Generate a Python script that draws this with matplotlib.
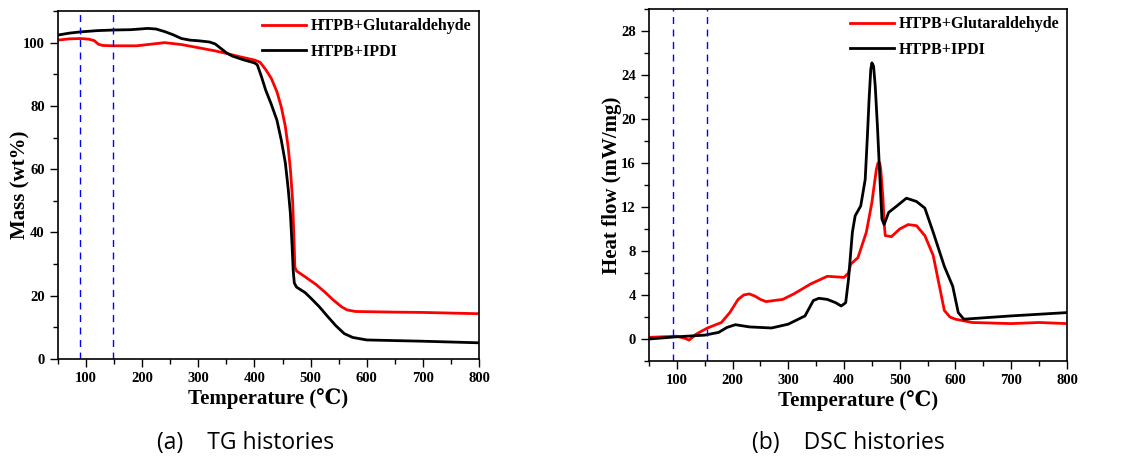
import numpy as np
import matplotlib.pyplot as plt
from matplotlib.ticker import MultipleLocator

serif = ['Liberation Serif', 'DejaVu Serif']
plt.rcParams['font.family'] = serif
plt.rcParams['font.weight'] = 'bold'

# TG data (temperature in C, mass wt%)
tg_glu_t = [50, 70, 90, 105, 115, 122, 130, 150, 190, 215, 240, 270, 300, 330, 350, 375, 400, 410, 420, 430, 440, 448, 455, 460, 464, 468, 470, 472, 475, 490, 510, 525, 540, 555, 565, 580, 650, 700, 800]
tg_glu_m = [100.8, 101.2, 101.3, 101.1, 100.6, 99.5, 99.1, 99, 99, 99.5, 100, 99.4, 98.4, 97.4, 96.6, 95.5, 94.5, 93.8, 91.5, 88.7, 84.5, 79.5, 73.5, 67, 60, 50, 40, 29, 27.8, 26, 23.5, 21.2, 18.7, 16.5, 15.5, 15, 14.8, 14.7, 14.3]
tg_ipdi_t = [50, 70, 90, 120, 150, 180, 210, 225, 240, 255, 270, 285, 300, 320, 330, 340, 350, 360, 380, 400, 405, 412, 420, 430, 440, 448, 455, 460, 464, 467, 469, 471, 475, 490, 500, 515, 530, 545, 560, 575, 600, 700, 800]
tg_ipdi_m = [102.4, 103, 103.4, 103.8, 104, 104.1, 104.5, 104.3, 103.5, 102.5, 101.3, 100.8, 100.6, 100.2, 99.6, 98.2, 96.8, 95.8, 94.6, 93.6, 93, 89.5, 85, 80.5, 75.5, 69, 62, 54, 46, 36, 28, 24, 22.7, 21, 19.3, 16.6, 13.5, 10.5, 8, 6.8, 6, 5.6, 5.1]

# DSC data (temperature in C, heat flow mW/mg)
dsc_glu_t = [50, 100, 115, 122, 135, 155, 180, 195, 210, 220, 230, 240, 250, 260, 290, 310, 340, 370, 400, 408, 412, 425, 440, 450, 455, 458, 461, 464, 466, 468, 470, 472, 474, 485, 500, 515, 530, 545, 560, 570, 580, 590, 600, 630, 700, 750, 800]
dsc_glu_h = [0.15, 0.25, 0.05, -0.1, 0.45, 1.0, 1.5, 2.4, 3.6, 4.0, 4.1, 3.9, 3.6, 3.4, 3.6, 4.1, 5.0, 5.7, 5.6, 6.0, 6.8, 7.4, 9.7, 12.4, 14.3, 15.4, 16.0, 16.0, 15.4, 14.0, 12.7, 10.5, 9.4, 9.3, 10.0, 10.4, 10.3, 9.4, 7.6, 5.1, 2.6, 2.0, 1.8, 1.5, 1.4, 1.5, 1.4]
dsc_ipdi_t = [50, 100, 150, 175, 190, 205, 230, 270, 300, 330, 345, 355, 370, 385, 395, 403, 408, 415, 420, 430, 438, 442, 445, 448, 450, 453, 456, 460, 464, 468, 472, 480, 495, 512, 530, 545, 560, 580, 595, 605, 615, 700, 800]
dsc_ipdi_h = [0, 0.2, 0.35, 0.6, 1.05, 1.3, 1.1, 1.0, 1.35, 2.1, 3.5, 3.7, 3.6, 3.3, 3.0, 3.3, 5.4, 9.7, 11.2, 12.1, 14.5, 18.5, 21.8, 24.5, 25.1, 24.8, 23.0, 19.3, 15.0, 10.9, 10.4, 11.5, 12.1, 12.8, 12.5, 11.9, 9.7, 6.6, 4.8, 2.4, 1.8, 2.1, 2.4]

tg_marks = [90, 148]
dsc_marks = [94, 154]

fig = plt.figure(figsize=(11.3, 4.59), dpi=100)
ax1 = fig.add_axes([0.0513, 0.218, 0.3726, 0.758])
ax2 = fig.add_axes([0.5743, 0.2135, 0.3699, 0.767])

def style(ax):
    ax.tick_params(which='major', direction='out', length=6, width=1, labelsize=10.5,
                   top=False, right=False)
    ax.tick_params(which='minor', direction='out', length=3.5, width=1, top=False, right=False)
    for s in ax.spines.values():
        s.set_linewidth(1.2)
    for lab in ax.get_xticklabels() + ax.get_yticklabels():
        lab.set_fontweight('bold')
    ax.set_xlabel('Temperature (℃)', fontsize=15, fontweight='bold', family=serif, labelpad=2)
    ax.yaxis.set_label_coords(-0.065, 0.5)
    ax.legend(loc='upper right', frameon=False, prop={'family': serif, 'weight': 'bold', 'size': 11.5},
              handlelength=2.7, handletextpad=0.35, borderaxespad=0.1, borderpad=0.35,
              labelspacing=0.6)

ax1.plot(tg_glu_t, tg_glu_m, color='red', lw=2, label='HTPB+Glutaraldehyde')
ax1.plot(tg_ipdi_t, tg_ipdi_m, color='black', lw=2, label='HTPB+IPDI')
for v in tg_marks:
    ax1.axvline(v, color='blue', lw=1, ls=(0, (5, 4)))
ax1.set_xlim(50, 800)
ax1.set_ylim(0, 110)
ax1.xaxis.set_major_locator(MultipleLocator(100))
ax1.xaxis.set_minor_locator(MultipleLocator(50))
ax1.yaxis.set_major_locator(MultipleLocator(20))
ax1.yaxis.set_minor_locator(MultipleLocator(10))
ax1.set_ylabel('Mass (wt%)', fontsize=15, fontweight='bold')
style(ax1)

ax2.plot(dsc_glu_t, dsc_glu_h, color='red', lw=2, label='HTPB+Glutaraldehyde')
ax2.plot(dsc_ipdi_t, dsc_ipdi_h, color='black', lw=2, label='HTPB+IPDI')
for v in dsc_marks:
    ax2.axvline(v, color='blue', lw=1, ls=(0, (5, 4)))
ax2.set_xlim(50, 800)
ax2.set_ylim(-2, 30)
ax2.xaxis.set_major_locator(MultipleLocator(100))
ax2.xaxis.set_minor_locator(MultipleLocator(50))
ax2.yaxis.set_major_locator(MultipleLocator(4))
ax2.yaxis.set_minor_locator(MultipleLocator(2))
ax2.set_ylabel('Heat flow (mW/mg)', fontsize=15, fontweight='bold')
style(ax2)

fig.text(157 / 1130, 0.035, '(a)    TG histories', fontsize=16.5, family='Open Sans', fontweight='normal', va='center')
fig.text(752 / 1130, 0.035, '(b)    DSC histories', fontsize=16.5, family='Open Sans', fontweight='normal', va='center')

fig.savefig('out.png', dpi=100)
